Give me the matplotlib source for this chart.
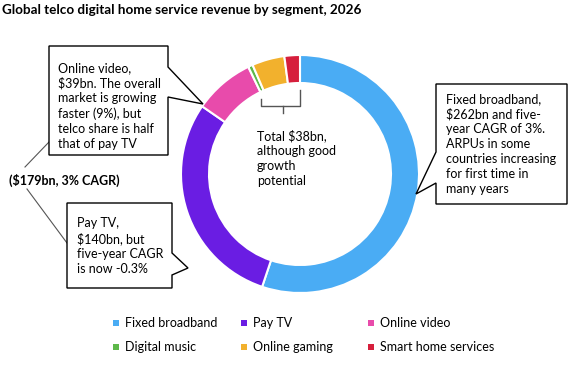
import matplotlib
matplotlib.use('Agg')
import matplotlib.pyplot as plt
from matplotlib.patches import Polygon, Rectangle

# revenue by segment, $bn (2026)
segments = ['Fixed broadband', 'Pay TV', 'Online video',
            'Digital music', 'Online gaming', 'Smart home services']
revenue_bn = [262, 140, 39, 3, 21, 10]
colors = ['#4aacf4', '#6a1de3', '#e84bab', '#5db84a', '#f2b12d', '#d61f3c']

title = 'Global telco digital home service revenue by segment, 2026'
note_video = 'Online video,\n$39bn. The overall\nmarket is growing\nfaster (9%), but\ntelco share is half\nthat of pay TV'
note_paytv = 'Pay TV,\n$140bn, but\nfive-year CAGR\nis now -0.3%'
note_broadband = ('Fixed broadband,\n$262bn and five-\nyear CAGR of 3%.\nARPUs in some\n'
                  'countries increasing\nfor first time in\nmany years')
note_small = 'Total $38bn,\nalthough good\ngrowth\npotential'
note_tv_total = '($179bn, 3% CAGR)'

W, H = 569, 366
plt.rcParams['font.family'] = ['Lato', 'DejaVu Sans']

fig = plt.figure(figsize=(W / 100, H / 100), dpi=100)
ax = fig.add_axes([0, 0, 1, 1])


def px(x, y):
    # pixel coords (y down) -> data coords (y up)
    return (x, H - y)


ax.pie(revenue_bn, colors=colors, startangle=90, counterclock=False,
       center=px(300, 174), radius=119,
       wedgeprops=dict(width=28, edgecolor='white', linewidth=1.5))
ax.set_xlim(0, W)
ax.set_ylim(0, H)
ax.set_aspect('auto')
ax.axis('off')


def callout(points):
    ax.add_patch(Polygon([px(x, y) for x, y in points], closed=True,
                         facecolor='white', edgecolor='black', linewidth=1, zorder=3))


callout([(49, 46), (168, 46), (168, 67), (203, 104), (168, 97), (168, 155), (49, 155)])
callout([(67, 203), (172, 203), (172, 253), (188, 268), (172, 275), (172, 288), (67, 288)])
callout([(436, 84), (567, 84), (567, 204), (436, 204), (436, 183), (416, 194), (436, 152)])

fs = 9.0
ls = 1.3
ax.text(*px(58, 106), note_video, fontsize=fs, linespacing=ls, va='center', ha='left', zorder=4)
ax.text(*px(77, 246), note_paytv, fontsize=fs, linespacing=ls, va='center', ha='left', zorder=4)
ax.text(*px(446, 144), note_broadband, fontsize=fs, linespacing=ls, va='center', ha='left', zorder=4)
ax.text(*px(257, 158), note_small, fontsize=fs, linespacing=ls, va='center', ha='left', zorder=4)
ax.text(*px(9, 180), note_tv_total, fontsize=fs, fontweight='bold', va='center', ha='left')

# connector lines for pay TV + online video total
ax.plot(*zip(px(25, 167), px(49, 142)), color='#555555', lw=0.8)
ax.plot(*zip(px(27, 189), px(67, 243)), color='#555555', lw=0.8)

# bracket under the small segments
br = dict(color='#555555', lw=1)
ax.plot(*zip(px(261, 99), px(261, 106), px(300, 106), px(300, 90)), **br)
ax.plot(*zip(px(283, 106), px(283, 113)), **br)

fig.text(2 / W, 1 - 10 / H, title, fontsize=9.7, fontweight='bold', va='center', ha='left')

# legend, 3 columns x 2 rows
col_x = [116, 244, 371]
row_y = [323, 347]
for i, (name, c) in enumerate(zip(segments, colors)):
    x, y = col_x[i % 3], row_y[i // 3]
    ax.add_patch(Rectangle(px(x - 3, y + 3), 6, 6, facecolor=c, edgecolor='none'))
    ax.text(*px(x + 9, y), name, fontsize=fs, va='center', ha='left')

fig.savefig('out.png', dpi=100)
